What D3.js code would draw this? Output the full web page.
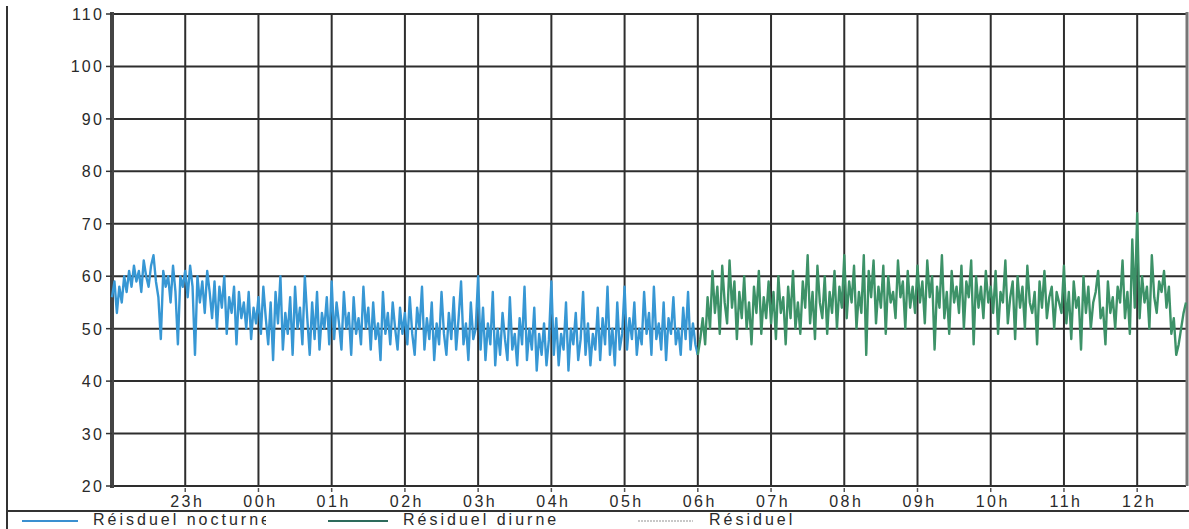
<!DOCTYPE html>
<html lang="fr">
<head>
<meta charset="utf-8">
<title>Résiduel</title>
<script src="https://cdn.jsdelivr.net/npm/d3@7/dist/d3.min.js"></script>
<style>
  body { margin: 0; background: #fff; }
  text { font-family: "Liberation Sans", Arial, sans-serif; fill: #2a2a2a; }
</style>
</head>
<body>
<svg id="chart" width="1189" height="529"></svg>
<script>
// niveaux relevés toutes les 2 minutes, lus sur le graphique
// nocturne : 22h00 -> 06h00
const nocturne = [
  56,59,53,58,55,60,57,61,58,62,59,61,57,63,60,58,62,64,59,56,48,61,58,60,55,62,57,47,60,58,
  61,56,62,58,45,60,55,59,53,61,57,52,59,50,58,54,60,49,56,53,58,47,57,52,55,50,57,48,54,51,
  56,49,58,52,47,55,44,57,51,60,46,53,49,56,45,58,50,54,47,60,52,45,55,48,57,46,53,50,56,47,
  59,48,55,51,46,57,50,53,45,56,49,52,47,58,50,54,46,55,48,51,44,57,49,53,47,55,50,46,54,49,
  53,47,56,49,45,54,50,58,46,52,48,55,44,51,47,57,49,45,53,48,56,46,52,59,47,51,44,55,48,50,
  60,46,54,44,51,47,57,43,50,45,53,48,44,56,46,49,43,52,47,58,44,50,46,54,42,49,45,51,43,48,
  59,45,52,43,49,46,55,42,50,47,53,44,48,57,45,51,43,49,46,54,44,52,47,58,45,50,43,55,46,49,
  58,46,52,48,55,45,50,47,57,49,53,45,58,48,51,46,55,44,52,49,56,47,50,45,54,48,57,46,51,47,
  45
];
// diurne : 06h00 -> 12h40
const diurne = [
  45,48,52,47,56,50,61,53,58,49,62,55,51,63,54,59,48,57,52,60,50,55,47,58,53,61,49,56,52,59,
  51,57,48,60,53,56,47,58,52,61,50,55,49,59,54,64,51,57,48,62,55,52,60,49,57,53,61,50,58,54,
  64,52,59,55,62,50,57,53,64,45,61,56,63,51,58,54,62,49,60,55,57,52,63,56,59,50,61,54,58,53,
  62,55,59,51,63,56,60,46,58,54,64,52,57,49,61,55,58,53,62,50,59,56,63,47,60,54,58,52,61,55,
  58,53,61,49,57,55,63,51,56,59,48,60,54,58,50,62,55,53,57,47,59,54,61,52,56,58,50,57,55,53,
  62,51,57,48,59,54,56,46,60,53,58,50,55,57,61,52,54,47,59,53,56,50,58,55,63,52,57,49,67,54,
  72,52,60,55,58,50,64,56,53,59,57,61,54,58,49,52,45,47,50,53,
  55
];
const yTicks = [20, 30, 40, 50, 60, 70, 80, 90, 100, 110];
const hourLabels = ["23h","00h","01h","02h","03h","04h","05h","06h","07h","08h","09h","10h","11h","12h"];
const legendItems = ["Réisduel nocturne", "Résiduel diurne", "Résiduel"];

const svg = d3.select("#chart");
const start = new Date(2020, 0, 1, 22, 0);
const end = new Date(2020, 0, 2, 12, 40);
const step = 2 * 60 * 1000;

const x = d3.scaleTime().domain([start, end]).range([112, 1186]);
const y = d3.scaleLinear().domain([20, 110]).range([486, 14]);

const nightData = nocturne.map((v, i) => ({ t: new Date(+start + i * step), v }));
const dayStart = new Date(2020, 0, 2, 6, 0);
const dayData = diurne.map((v, i) => ({ t: new Date(+dayStart + i * step), v }));

// cadre extérieur
svg.append("line").attr("x1", 7).attr("x2", 7).attr("y1", 6).attr("y2", 529)
  .attr("stroke", "#333").attr("stroke-width", 2);
svg.append("line").attr("x1", 7).attr("x2", 1189).attr("y1", 511).attr("y2", 511)
  .attr("stroke", "#333").attr("stroke-width", 2);

// grille horizontale
svg.append("g").selectAll("line").data(yTicks).join("line")
  .attr("x1", 112).attr("x2", 1186)
  .attr("y1", d => y(d)).attr("y2", d => y(d))
  .attr("stroke", "#2e2e2e").attr("stroke-width", 2);

// grille verticale (chaque heure)
const hours = d3.timeHour.range(new Date(2020, 0, 1, 23, 0), new Date(2020, 0, 2, 12, 1));
svg.append("g").selectAll("line").data(hours).join("line")
  .attr("x1", d => x(d)).attr("x2", d => x(d))
  .attr("y1", 14).attr("y2", 486)
  .attr("stroke", "#2e2e2e").attr("stroke-width", 2);
svg.append("g").selectAll("line").data(hours).join("line")
  .attr("x1", d => x(d)).attr("x2", d => x(d))
  .attr("y1", 488).attr("y2", 492)
  .attr("stroke", "#555").attr("stroke-width", 1.5);

// axe gauche + bord droit
svg.append("line").attr("x1", 112).attr("x2", 112).attr("y1", 12).attr("y2", 488)
  .attr("stroke", "#444").attr("stroke-width", 4);
svg.append("line").attr("x1", 1187).attr("x2", 1187).attr("y1", 12).attr("y2", 486)
  .attr("stroke", "#777").attr("stroke-width", 3);
svg.append("g").selectAll("line").data(yTicks).join("line")
  .attr("x1", 106).attr("x2", 112)
  .attr("y1", d => y(d)).attr("y2", d => y(d))
  .attr("stroke", "#333").attr("stroke-width", 1.5);

// libellés
svg.append("g").selectAll("text").data(yTicks).join("text")
  .attr("x", 104).attr("y", d => y(d) + 6)
  .attr("text-anchor", "end")
  .style("font-size", "16px").style("letter-spacing", "2.2px")
  .text(d => d);
svg.append("g").selectAll("text").data(hours).join("text")
  .attr("x", (d, i) => x(d) + 2).attr("y", 507)
  .attr("text-anchor", "middle")
  .style("font-size", "16px").style("letter-spacing", "2.5px")
  .text((d, i) => hourLabels[i]);

// séries
const line = d3.line().x(d => x(d.t)).y(d => y(d.v));
svg.append("path").datum(nightData).attr("d", line)
  .attr("fill", "none").attr("stroke", "#3797d4").attr("stroke-width", 2.4)
  .attr("stroke-linejoin", "round");
svg.append("path").datum(dayData).attr("d", line)
  .attr("fill", "none").attr("stroke", "#3d9268").attr("stroke-width", 2.4)
  .attr("stroke-linejoin", "round");

// légende
svg.append("clipPath").attr("id", "clipLeg")
  .append("rect").attr("x", 0).attr("y", 512).attr("width", 266).attr("height", 17);
const leg = [
  { x1: 22, x2: 78, tx: 93, color: "#3a8fd0", dash: null, clip: true },
  { x1: 328, x2: 388, tx: 403, color: "#2d6b5c", dash: null, clip: false },
  { x1: 638, x2: 693, tx: 709, color: "#c8c8c8", dash: "2,1", clip: false }
];
leg.forEach((l, i) => {
  svg.append("line").attr("x1", l.x1).attr("x2", l.x2).attr("y1", 521).attr("y2", 521)
    .attr("stroke", l.color).attr("stroke-width", 2)
    .attr("stroke-dasharray", l.dash);
  const t = svg.append("text").attr("x", l.tx).attr("y", 525)
    .style("font-size", "16px").style("letter-spacing", "3px")
    .text(legendItems[i]);
  if (l.clip) t.attr("clip-path", "url(#clipLeg)");
});
</script>
</body>
</html>
